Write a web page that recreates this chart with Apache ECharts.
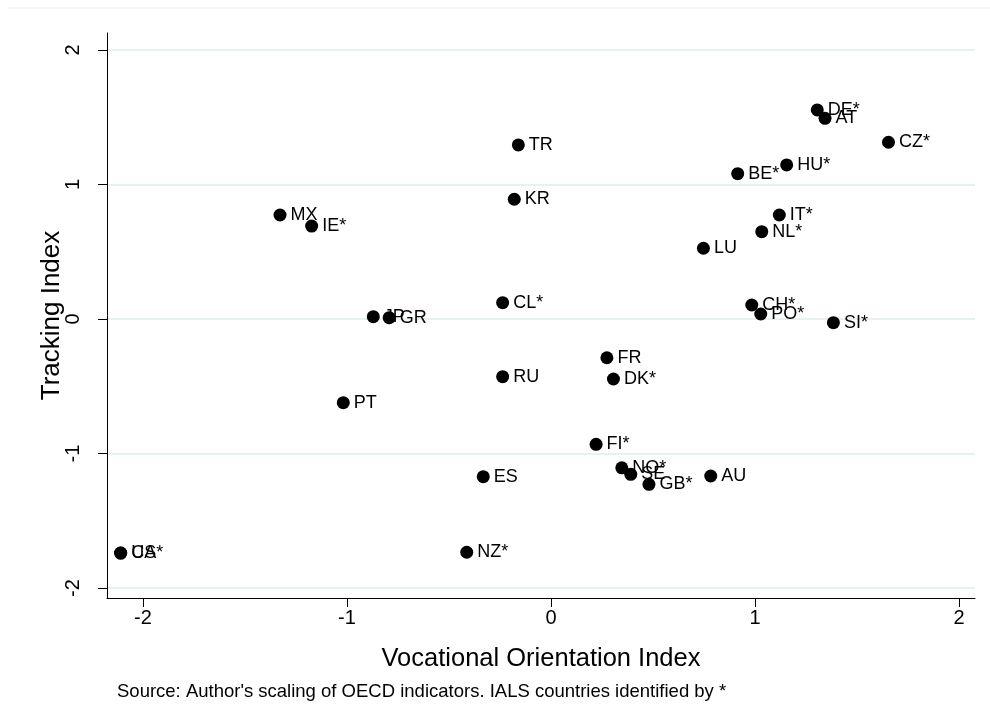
<!DOCTYPE html>
<html>
<head>
<meta charset="utf-8">
<script src="https://cdn.jsdelivr.net/npm/echarts@6/dist/echarts.min.js"></script>
<style>
html,body{margin:0;padding:0;background:#fff;}
#chart{width:990px;height:727px;}
</style>
</head>
<body>
<div id="chart"></div>
<script>
// Country codes (IALS countries marked with *)
const countries = ['DE*','AT','CZ*','HU*','BE*','TR','KR','MX','IE*','IT*','NL*','LU','CL*','JP','GR','CH*','PO*','SI*','FR','DK*','RU','PT','FI*','NO*','SE','GB*','AU','ES','NZ*','US','CA*'];
// Vocational Orientation Index
const vocational = [1.305,1.343,1.654,1.155,0.915,-0.160,-0.180,-1.328,-1.173,1.119,1.033,0.747,-0.237,-0.871,-0.793,0.984,1.028,1.384,0.274,0.306,-0.237,-1.018,0.221,0.347,0.391,0.480,0.783,-0.332,-0.413,-2.109,-2.109];
// Tracking Index
const tracking = [1.554,1.492,1.314,1.145,1.080,1.294,0.890,0.773,0.691,0.773,0.649,0.526,0.121,0.017,0.010,0.104,0.037,-0.027,-0.288,-0.446,-0.429,-0.622,-0.932,-1.106,-1.155,-1.229,-1.167,-1.172,-1.734,-1.740,-1.740];
// Tick labels
const xTicks = [-2,-1,0,1,2];
const yTicks = [-2,-1,0,1,2];

const FONT = 'Liberation Sans, Arial, Helvetica, sans-serif';
const data = countries.map((c,i)=>[vocational[i], tracking[i], c]);

const chart = echarts.init(document.getElementById('chart'), null, {renderer:'canvas'});
chart.setOption({
  backgroundColor:'#ffffff',
  animation:false,
  textStyle:{fontFamily:FONT},
  grid:{left:107, top:33, right:15, bottom:129, containLabel:false},
  xAxis:{
    type:'value', min:-2.176, max:2.078,
    name:'Vocational Orientation Index', nameLocation:'middle', nameGap:48, nameMoveOverlap:false,
    nameTextStyle:{fontSize:25.5, color:'#000', fontFamily:FONT},
    axisLine:{show:true, onZero:false, lineStyle:{color:'#000', width:1}},
    axisTick:{show:true, length:9, customValues:xTicks, lineStyle:{color:'#000'}},
    axisLabel:{show:true, customValues:xTicks, fontSize:20, color:'#000', margin:10, fontFamily:FONT},
    splitLine:{show:false}
  },
  yAxis:{
    type:'value', min:-2.074, max:2.126,
    name:'Tracking Index', nameLocation:'middle', nameGap:42, nameRotate:90, nameMoveOverlap:false,
    nameTextStyle:{fontSize:26, color:'#000', fontFamily:FONT},
    axisLine:{show:true, onZero:false, lineStyle:{color:'#000', width:1}},
    axisTick:{show:true, length:9, customValues:yTicks, lineStyle:{color:'#000'}},
    axisLabel:{show:true, customValues:yTicks, fontSize:20, color:'#000', margin:24, rotate:90, fontFamily:FONT},
    splitLine:{show:true, lineStyle:{color:'#e1ebee', width:1.5}}
  },
  graphic:[
    {type:'line', shape:{x1:8, y1:8, x2:990, y2:8}, style:{stroke:'#e1ebee', lineWidth:1}},
    {type:'text', left:117, top:682, style:{text:"Source: Author's scaling of OECD indicators. IALS countries identified by *", fontSize:18.5, fill:'#000', fontFamily:FONT}}
  ],
  series:[{
    type:'scatter',
    data:data,
    symbol:'circle',
    symbolSize:13,
    itemStyle:{color:'#000', opacity:1},
    label:{show:true, position:'right', distance:4, formatter:p=>p.data[2], fontSize:18, color:'#000', fontFamily:FONT},
    labelLayout:{hideOverlap:false},
    emphasis:{disabled:true}
  }]
});
</script>
</body>
</html>
